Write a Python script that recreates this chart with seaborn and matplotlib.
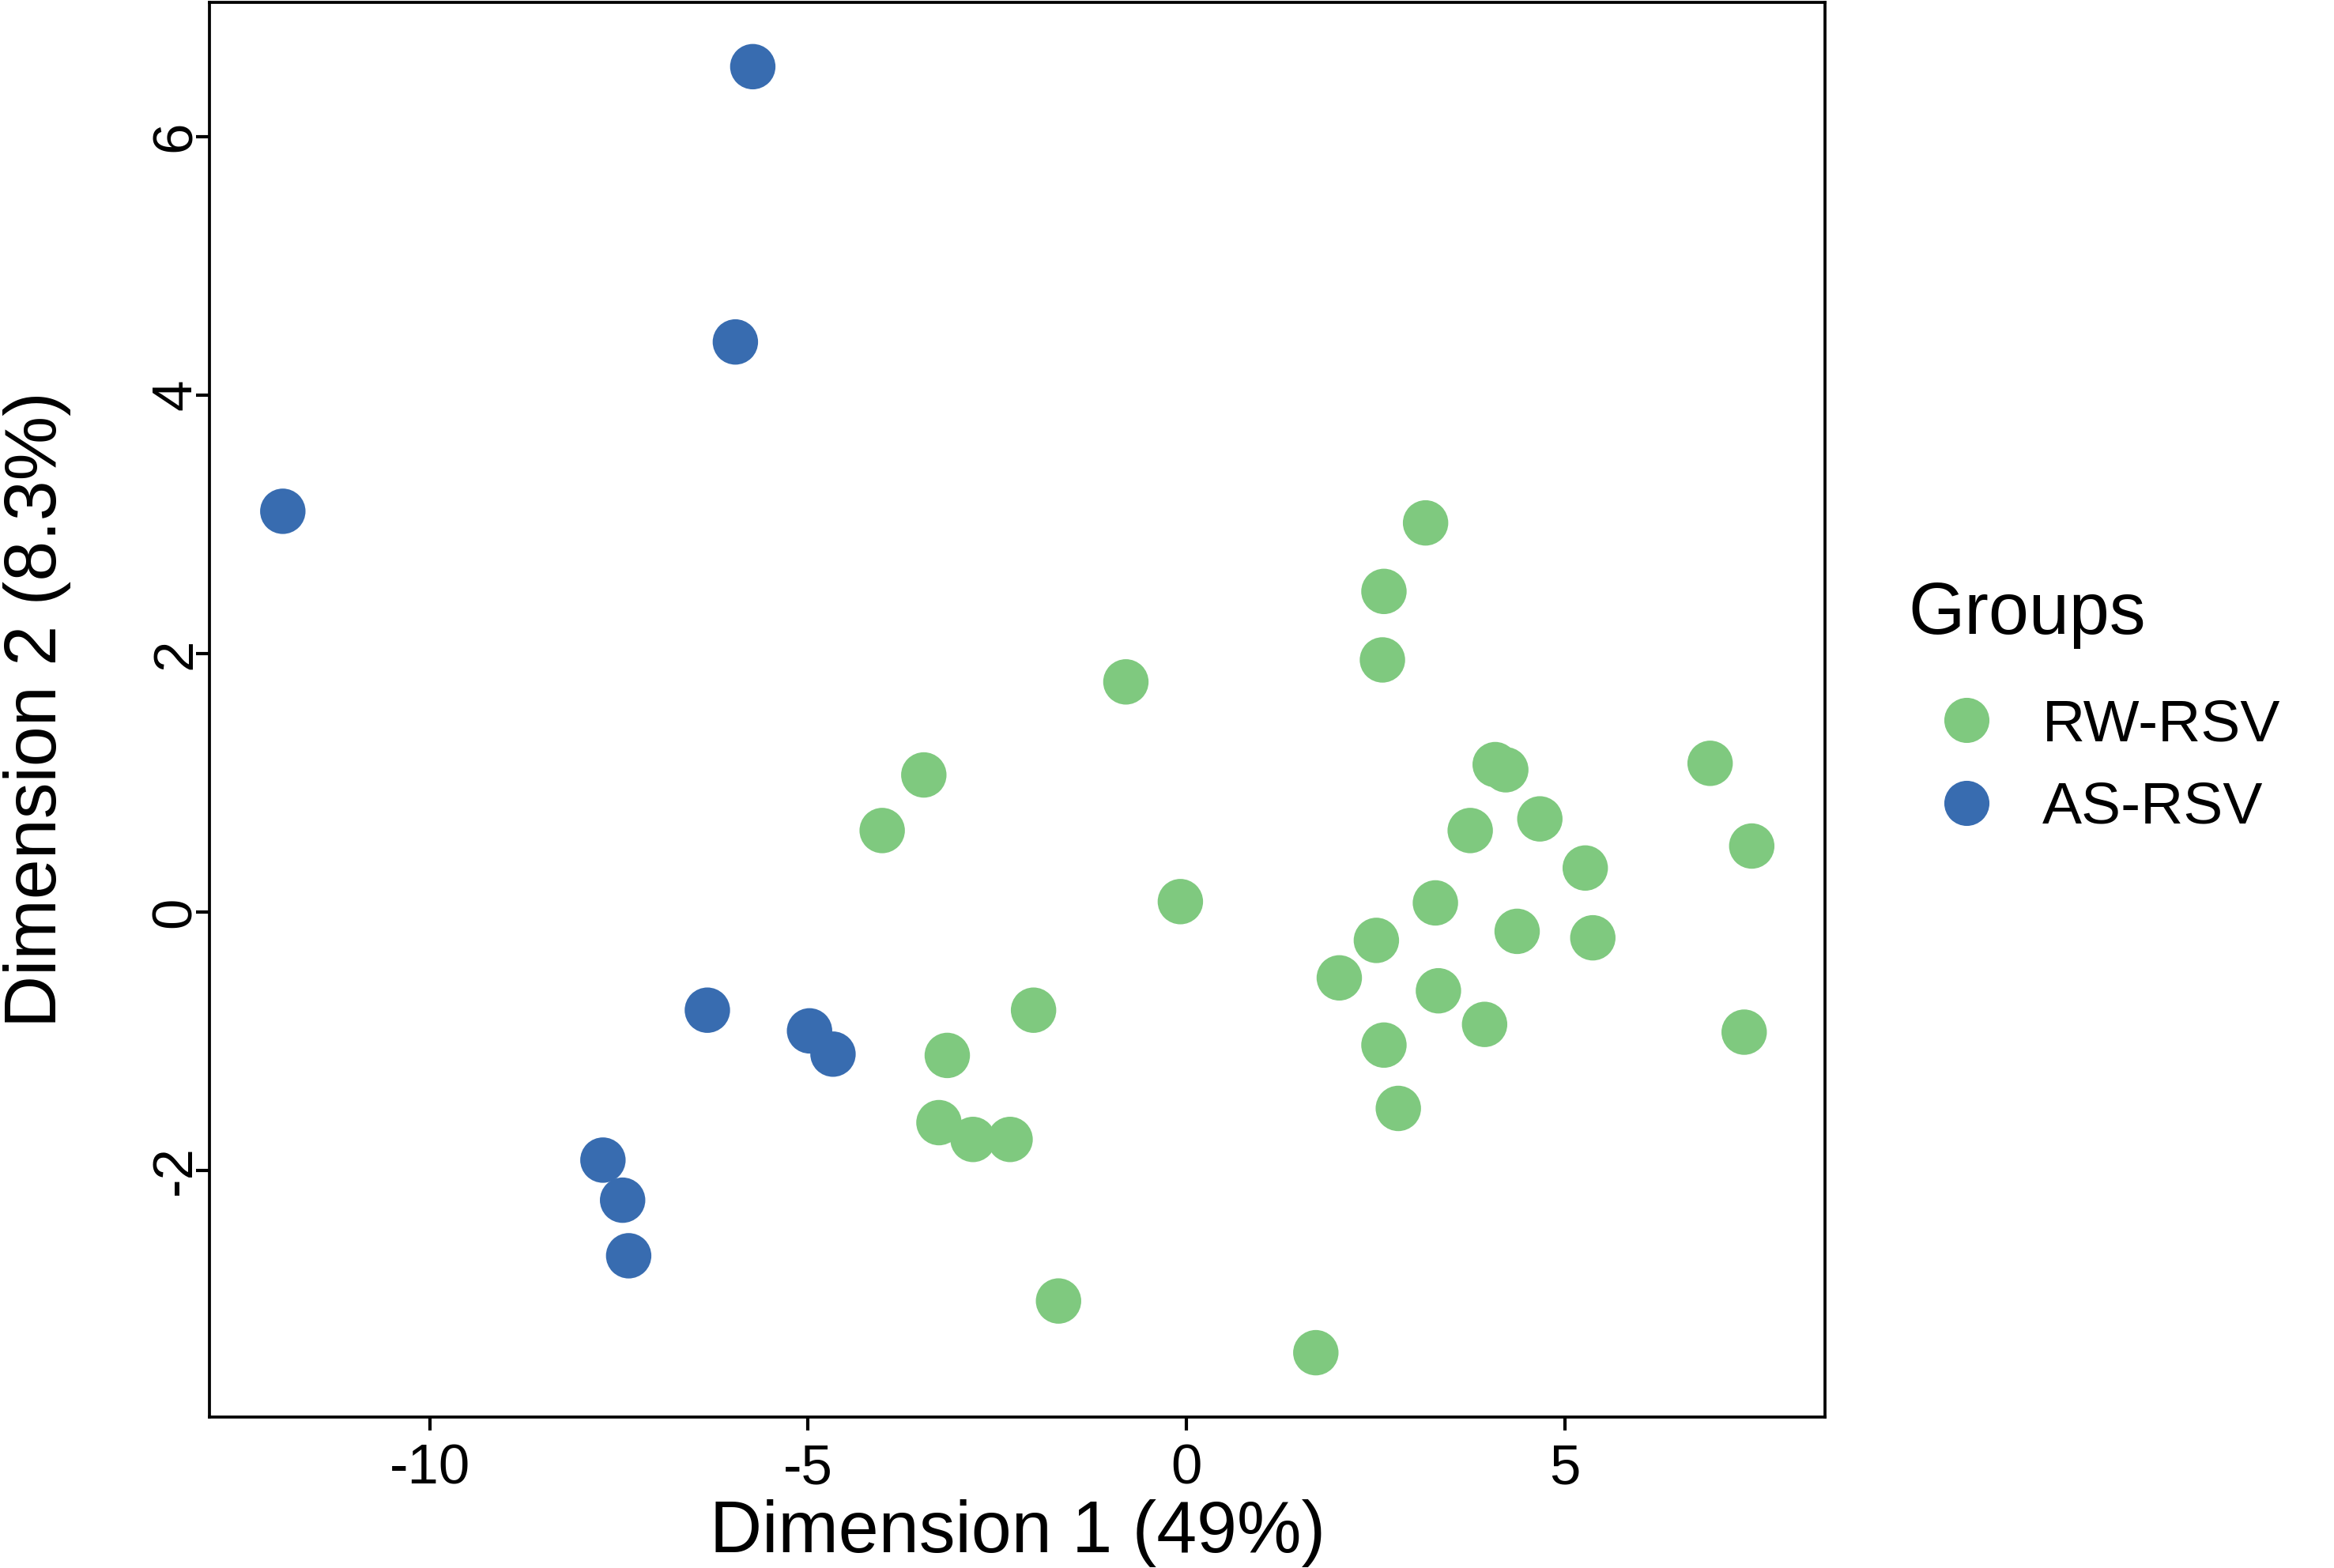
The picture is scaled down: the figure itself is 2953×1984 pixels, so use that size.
"""
MDS plot of RW-RSV vs AS-RSV samples
"""

import numpy as np
import pandas as pd
import matplotlib
matplotlib.use("Agg")
import matplotlib.pyplot as plt
import seaborn as sns

# values
rw_dim1 = [3.16, 2.61, 2.59, -0.80, -3.47, -4.02, -0.08, 4.08, 4.22, 6.92,
           3.75, 4.67, 5.27, 7.47, 3.29, 2.51, 4.37, 5.37, 2.02, 3.33,
           2.61, 3.94, 7.37, 2.80, -2.02, -3.16, -3.27, -2.82, -2.33, -1.69,
           1.71]
rw_dim2 = [3.01, 2.48, 1.95, 1.78, 1.06, 0.63, 0.08, 1.14, 1.10, 1.15,
           0.63, 0.72, 0.34, 0.51, 0.07, -0.22, -0.15, -0.20, -0.51, -0.61,
           -1.03, -0.87, -0.93, -1.52, -0.76, -1.11, -1.63, -1.76, -1.76, -3.01,
           -3.41]
as_dim1 = [-5.73, -5.96, -11.94, -6.33, -4.98, -4.67, -7.71, -7.45, -7.37]
as_dim2 = [6.54, 4.41, 3.10, -0.76, -0.92, -1.10, -1.92, -2.23, -2.66]

groups = ["RW-RSV", "AS-RSV"]
group_colors = ["#7FC97F", "#386CB0"]
x_ticks = [-10, -5, 0, 5]
y_ticks = [-2, 0, 2, 4, 6]

df = pd.DataFrame({
    "dim1": rw_dim1 + as_dim1,
    "dim2": rw_dim2 + as_dim2,
    "Groups": [groups[0]] * len(rw_dim1) + [groups[1]] * len(as_dim1),
})

sns.set_theme(style="white")
plt.rcParams["font.family"] = ["Liberation Sans", "DejaVu Sans"]
plt.rcParams["axes.unicode_minus"] = False
plt.rcParams["text.color"] = "black"
plt.rcParams["axes.labelcolor"] = "black"

fig = plt.figure(figsize=(2953 / 300, 1984 / 300), dpi=300)
ax = fig.add_axes([0.0897, 0.0963, 0.782 - 0.0897, 0.9985 - 0.0963])

sns.scatterplot(data=df, x="dim1", y="dim2", hue="Groups", hue_order=groups,
                palette=dict(zip(groups, group_colors)), s=190, linewidth=0,
                alpha=1, ax=ax)

# ggplot-like 5% expansion
def expand(vals, frac=0.05):
    lo, hi = min(vals), max(vals)
    pad = (hi - lo) * frac
    return lo - pad, hi + pad

ax.set_xlim(*expand(df["dim1"]))
ax.set_ylim(*expand(df["dim2"]))
ax.set_xticks(x_ticks, labels=[str(v) for v in x_ticks])
ax.set_yticks(y_ticks, labels=[str(v) for v in y_ticks], rotation=90,
              rotation_mode="anchor", ha="center", va="baseline")

for sp in ax.spines.values():
    sp.set_visible(True)
    sp.set_color("black")
    sp.set_linewidth(0.9)

ax.tick_params(axis="both", which="major", direction="out", length=4,
               width=1.0, color="black", labelsize=17, labelcolor="black",
               bottom=True, left=True)
ax.tick_params(axis="x", pad=4)
ax.tick_params(axis="y", pad=1.7)

ax.set_xlabel("Dimension 1 (49%)", fontsize=22, color="black", labelpad=1.2)
ax.set_ylabel("Dimension 2 (8.3%)", fontsize=22, color="black", labelpad=24)

leg = ax.get_legend()
handles = leg.legend_handles
labels = [t.get_text() for t in leg.get_texts()]
leg.remove()
for h in handles:
    h.set_markersize(13.7)
fig.legend(handles, labels, loc="center left",
           bbox_to_anchor=(0.812, 0.511), frameon=False, fontsize=18,
           handlelength=1.0, handletextpad=0.78, labelspacing=0.47,
           borderpad=0.2)
fig.text(0.8175, 0.608, "Groups", fontsize=22, ha="left", va="center",
         color="black")

fig.savefig("out.png", dpi=300, facecolor="white")
